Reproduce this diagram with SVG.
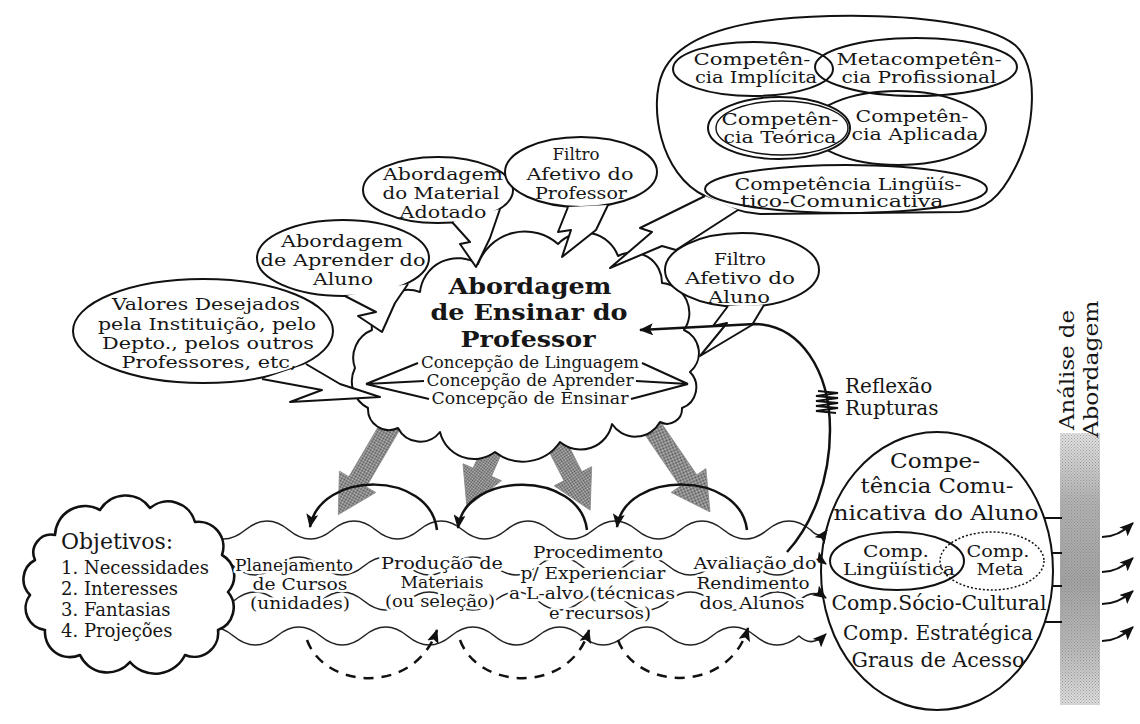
<svg xmlns="http://www.w3.org/2000/svg" width="1140" height="724" viewBox="0 0 1140 724">
<defs>
<style>
.t{font-family:"DejaVu Serif","Liberation Serif",serif;fill:#161616;text-anchor:middle}
.st{text-anchor:start}
.b{font-weight:bold}
.s16{font-size:16px}.s17{font-size:17px}.s18{font-size:18px}.s20{font-size:20px}.s21{font-size:21px}.s22{font-size:22px}
.ln{fill:none;stroke:#111;stroke-width:2}
.wf{fill:#fff;stroke:#111;stroke-width:2;stroke-linejoin:round}
.arc{fill:none;stroke:#111;stroke-width:2.5}
.dash{fill:none;stroke:#111;stroke-width:2.5;stroke-dasharray:10 8}
.wave{fill:none;stroke:#222;stroke-width:1.6}
.halo{stroke:#fff;stroke-width:5;paint-order:stroke;stroke-linejoin:round}
.hat{fill:url(#ht);stroke:#888;stroke-width:0.8}
</style>
<marker id="ah" markerUnits="userSpaceOnUse" markerWidth="14" markerHeight="12" viewBox="0 0 14 12" refX="13" refY="6" orient="auto"><path d="M0,0 L14,6 L0,12 L3,6 z" fill="#111"/></marker>
<pattern id="ht" width="2" height="2" patternUnits="userSpaceOnUse"><rect width="2" height="2" fill="#c4c4c4"/><rect width="1" height="1" fill="#505050"/><rect x="1" y="1" width="1" height="1" fill="#505050"/></pattern>
<pattern id="ht2" width="3" height="3" patternUnits="userSpaceOnUse"><rect width="1" height="1" fill="#777"/><rect x="1.5" y="1.5" width="1" height="1" fill="#777"/></pattern>
<linearGradient id="bandg" x1="0" y1="0" x2="0" y2="1">
<stop offset="0" stop-color="#e4e4e4"/><stop offset="0.25" stop-color="#b4b4b4"/><stop offset="0.55" stop-color="#a4a4a4"/><stop offset="0.8" stop-color="#bcbcbc"/><stop offset="1" stop-color="#e0e0e0"/>
</linearGradient>
</defs>
<rect width="1140" height="724" fill="#fff"/>

<g id="analise-abordagem">
<rect x="1060" y="433" width="40" height="272" fill="url(#bandg)"/>
<rect x="1060" y="433" width="40" height="272" fill="url(#ht2)" opacity="0.6"/>
<text class="t s20" transform="translate(1074,370) rotate(-90)" textLength="120" lengthAdjust="spacingAndGlyphs">Análise de</text>
<text class="t s20" transform="translate(1098,369) rotate(-90)" textLength="137" lengthAdjust="spacingAndGlyphs">Abordagem</text>
</g>

<g id="hatched-arrows">
<polygon class="hat" transform="translate(395,418) rotate(120.4)" points="0,-10 74,-10 74,-21 112,0 74,21 74,10 0,10"/>
<polygon class="hat" transform="translate(500,432) rotate(113.8)" points="0,-10 44,-10 44,-21 82,0 44,21 44,10 0,10"/>
<polygon class="hat" transform="translate(553,437) rotate(63.1)" points="0,-10 44,-10 44,-21 82,0 44,21 44,10 0,10"/>
<polygon class="hat" transform="translate(645,417) rotate(55.6)" points="0,-10 77,-10 77,-21 115,0 77,21 77,10 0,10"/>
</g>

<g id="abordagem-ensinar">
<path class="wf" d="M372,330 A36 36 0 0 1 420,292 A38 38 0 0 1 478,264 A50 50 0 0 1 558,244 A36 36 0 0 1 618,256 A30 30 0 0 1 662,283 A30 30 0 0 1 684,330 A25 25 0 0 1 690,372 A22 22 0 0 1 682,408 A15 15 0 0 1 660,422 A28 28 0 0 1 612,424 A32 32 0 0 1 560,442 A45 45 0 0 1 495,452 A35 35 0 0 1 440,432 A25 25 0 0 1 398,428 A21 21 0 0 1 368,408 A30 30 0 0 1 355,368 A30 30 0 0 1 372,330 Z"/>
<text class="t b s22" x="530" y="294" textLength="163" lengthAdjust="spacingAndGlyphs">Abordagem</text>
<text class="t b s22" x="529" y="320" textLength="197" lengthAdjust="spacingAndGlyphs">de Ensinar do</text>
<text class="t b s22" x="528" y="347" textLength="135" lengthAdjust="spacingAndGlyphs">Professor</text>
<text class="t s16" x="530" y="368" textLength="218" lengthAdjust="spacingAndGlyphs">Concepção de Linguagem</text>
<text class="t s16" x="530" y="386" textLength="207" lengthAdjust="spacingAndGlyphs">Concepção de Aprender</text>
<text class="t s16" x="530" y="404" textLength="197" lengthAdjust="spacingAndGlyphs">Concepção de Ensinar</text>
<path class="ln" d="M418,363 L366,384 M424,381 L366,384 M429,399 L366,384 M642,363 L688,384 M636,381 L688,384 M631,399 L688,384"/>
</g>

<g id="valores">
<ellipse class="wf" cx="203" cy="331" rx="130" ry="52"/>
<path class="wf" d="M262,379 L322,390 L290,402 L380,397 L340,384 L306,364"/>
<text class="t s17" x="206" y="310" textLength="188" lengthAdjust="spacingAndGlyphs">Valores Desejados</text>
<text class="t s17" x="207" y="330" textLength="218" lengthAdjust="spacingAndGlyphs">pela Instituição, pelo</text>
<text class="t s17" x="208" y="349" textLength="212" lengthAdjust="spacingAndGlyphs">Depto., pelos outros</text>
<text class="t s17" x="209" y="368" textLength="175" lengthAdjust="spacingAndGlyphs">Professores, etc,</text>
</g>

<g id="aprender-aluno">
<ellipse class="wf" cx="343" cy="258" rx="86" ry="38"/>
<path class="wf" d="M345,296 L376,312 L358,316 L382,332 L395,303 L408,284"/>
<text class="t s17" x="342" y="247" textLength="122" lengthAdjust="spacingAndGlyphs">Abordagem</text>
<text class="t s17" x="343" y="266" textLength="165" lengthAdjust="spacingAndGlyphs">de Aprender do</text>
<text class="t s17" x="343" y="285" textLength="60" lengthAdjust="spacingAndGlyphs">Aluno</text>
</g>

<g id="material-adotado">
<ellipse class="wf" cx="438" cy="190" rx="75" ry="33"/>
<path class="wf" d="M452,222 L470,242 L460,244 L476,267 L490,238 L500,209"/>
<text class="t s17" x="443" y="180" textLength="120" lengthAdjust="spacingAndGlyphs">Abordagem</text>
<text class="t s17" x="441" y="199" textLength="117" lengthAdjust="spacingAndGlyphs">do Material</text>
<text class="t s17" x="443" y="218" textLength="87" lengthAdjust="spacingAndGlyphs">Adotado</text>
</g>

<g id="filtro-professor">
<ellipse class="wf" cx="581" cy="172" rx="76" ry="35"/>
<path class="wf" d="M568,207 L558,232 L571,230 L562,257 L596,230 L608,205"/>
<text class="t s17" x="576" y="160" textLength="47" lengthAdjust="spacingAndGlyphs">Filtro</text>
<text class="t s17" x="580" y="180" textLength="107" lengthAdjust="spacingAndGlyphs">Afetivo do</text>
<text class="t s17" x="581" y="199" textLength="92" lengthAdjust="spacingAndGlyphs">Professor</text>
</g>

<g id="competencias-professor">
<path class="wf" d="M705,196 C660,175 648,105 663,72 C680,35 740,18 830,16 C920,14 990,25 1015,45 C1040,68 1035,130 1015,168 C1000,198 985,210 960,212 L760,214 C735,212 718,204 705,196 Z"/>
<path class="wf" d="M705,196 L640,228 L652,232 L610,268 L662,246 L676,250 L738,210"/>
<ellipse class="ln" cx="898" cy="128" rx="88" ry="37"/>
<ellipse class="ln" cx="916" cy="67" rx="101" ry="29"/>
<ellipse class="ln" cx="753" cy="69" rx="80" ry="27"/>
<ellipse class="wf" cx="779" cy="128" rx="71" ry="31"/>
<ellipse class="ln" cx="782" cy="128" rx="66" ry="27" style="stroke-width:1.4"/>
<ellipse class="ln" cx="846" cy="189" rx="141" ry="24"/>
<text class="t s16" x="752" y="65" textLength="117" lengthAdjust="spacingAndGlyphs">Competên-</text>
<text class="t s16" x="756" y="83" textLength="122" lengthAdjust="spacingAndGlyphs">cia Implícita</text>
<text class="t s16" x="919" y="65" textLength="165" lengthAdjust="spacingAndGlyphs">Metacompetên-</text>
<text class="t s16" x="919" y="83" textLength="155" lengthAdjust="spacingAndGlyphs">cia Profissional</text>
<text class="t s16" x="780" y="125" textLength="117" lengthAdjust="spacingAndGlyphs">Competên-</text>
<text class="t s16" x="780" y="143" textLength="113" lengthAdjust="spacingAndGlyphs">cia Teórica</text>
<text class="t s16" x="912" y="122" textLength="113" lengthAdjust="spacingAndGlyphs">Competên-</text>
<text class="t s16" x="915" y="140" textLength="127" lengthAdjust="spacingAndGlyphs">cia Aplicada</text>
<text class="t s16" x="848" y="190" textLength="227" lengthAdjust="spacingAndGlyphs">Competência Lingüís-</text>
<text class="t s16" x="842" y="207" textLength="203" lengthAdjust="spacingAndGlyphs">tico-Comunicativa</text>
</g>

<g id="filtro-aluno">
<ellipse class="wf" cx="742" cy="270" rx="77" ry="37"/>
<path class="wf" d="M728,306 L713,326 L727,323 L700,356 L752,325 L764,305"/>
<text class="t s17" x="740" y="265" textLength="52" lengthAdjust="spacingAndGlyphs">Filtro</text>
<text class="t s17" x="740" y="284" textLength="110" lengthAdjust="spacingAndGlyphs">Afetivo do</text>
<text class="t s17" x="739" y="303" textLength="62" lengthAdjust="spacingAndGlyphs">Aluno</text>
</g>

<g id="competencia-aluno">
<ellipse class="wf" cx="937" cy="571" rx="116" ry="139"/>
<ellipse class="ln" cx="897" cy="561" rx="67" ry="29"/>
<ellipse class="ln" cx="992" cy="561" rx="52" ry="29" style="stroke-width:1.5;stroke-dasharray:2 2"/>
<text class="t s21" x="935" y="468" textLength="90" lengthAdjust="spacingAndGlyphs">Compe-</text>
<text class="t s21" x="937" y="493" textLength="153" lengthAdjust="spacingAndGlyphs">tência Comu-</text>
<text class="t s21" x="936" y="520" textLength="205" lengthAdjust="spacingAndGlyphs">nicativa do Aluno</text>
<text class="t s17" x="896" y="557" textLength="66" lengthAdjust="spacingAndGlyphs">Comp.</text>
<text class="t s17" x="899" y="575" textLength="112" lengthAdjust="spacingAndGlyphs">Lingüística</text>
<text class="t s17" x="998" y="557" textLength="63" lengthAdjust="spacingAndGlyphs">Comp.</text>
<text class="t s17" x="1000" y="575" textLength="47" lengthAdjust="spacingAndGlyphs">Meta</text>
<text class="t s21" x="939" y="610" textLength="215" lengthAdjust="spacingAndGlyphs">Comp.Sócio-Cultural</text>
<text class="t s21" x="938" y="640" textLength="190" lengthAdjust="spacingAndGlyphs">Comp. Estratégica</text>
<text class="t s21" x="938" y="667" textLength="173" lengthAdjust="spacingAndGlyphs">Graus de Acesso</text>
</g>

<g id="connectors">
<path class="wave" marker-end="url(#ah)" d="M201.75,530 Q223.5,548 245.25,530 T288.75,530 T332.25,530 T375.75,530 T419.25,530 T462.75,530 T506.25,530 T549.75,530 T593.25,530 T636.75,530 T680.25,530 T723.75,530 T767.25,530 T810.75,530 Q820,540 827,530"/>
<path class="wave" marker-end="url(#ah)" d="M190,566 Q211.75,548 233.5,566 T277,566 T320.5,566 T364,566 T407.5,566 T451,566 T494.5,566 T538,566 T581.5,566 T625,566 T668.5,566 T712,566 T755.5,566 T799,566 Q812,554 826,564"/>
<path class="wave" marker-end="url(#ah)" d="M190,601 Q211.75,619 233.5,601 T277,601 T320.5,601 T364,601 T407.5,601 T451,601 T494.5,601 T538,601 T581.5,601 T625,601 T668.5,601 T712,601 T755.5,601 T799,601 Q812,588 826,598"/>
<path class="wave" marker-end="url(#ah)" d="M190,636 Q211.75,618 233.5,636 T277,636 T320.5,636 T364,636 T407.5,636 T451,636 T494.5,636 T538,636 T581.5,636 T625,636 T668.5,636 T712,636 T755.5,636 T799,636 Q812,648 826,634"/>
<path class="arc" marker-end="url(#ah)" d="M437,530 C430,470 320,470 310,527"/>
<path class="arc" marker-end="url(#ah)" d="M587,530 C580,470 465,470 458,528"/>
<path class="arc" marker-end="url(#ah)" d="M747,530 C740,470 625,470 617,527"/>
<path class="dash" marker-end="url(#ah)" d="M307,640 C325,690 415,695 437,630"/>
<path class="dash" marker-end="url(#ah)" d="M460,640 C478,690 570,695 589,630"/>
<path class="dash" marker-end="url(#ah)" d="M618,640 C636,690 728,695 748,628"/>
<path class="arc" marker-end="url(#ah)" d="M787,552 C812,525 830,480 830,430 C830,370 800,325 755,324 L640,330"/>
<polyline fill="none" stroke="#111" stroke-width="2.2" points="818,391 838,393 816,396 838,398 816,401 838,403 816,406 838,408 816,411 836,413"/>
<path class="ln" d="M1044,518 L1062,518 M1052,553 L1062,553 M1052,586 L1062,586 M1045,622 L1062,622"/>
<path class="ln" marker-end="url(#ah)" d="M1102,537 Q1118,537 1133,523"/>
<path class="ln" marker-end="url(#ah)" d="M1102,572 Q1118,572 1133,558"/>
<path class="ln" marker-end="url(#ah)" d="M1102,604 Q1118,604 1133,591"/>
<path class="ln" marker-end="url(#ah)" d="M1102,641 Q1118,641 1133,627"/>
</g>

<g id="reflexao">
<text class="t st s20" x="845" y="393">Reflexão</text>
<text class="t st s20" x="845" y="415">Rupturas</text>
</g>

<g id="objetivos">
<path class="wf" style="stroke-width:2.6" d="M55,535 A30 30 0 0 1 100,510 A30 30 0 0 1 150,508 A28 28 0 0 1 195,522 A25 25 0 0 1 222,555 A24 24 0 0 1 228,592 A24 24 0 0 1 218,630 A24 24 0 0 1 185,655 A33 33 0 0 1 130,662 A30 30 0 0 1 80,655 A25 25 0 0 1 45,630 A22 22 0 0 1 30,595 A22 22 0 0 1 35,560 A18 18 0 0 1 55,535 Z"/>
<text class="t st s22" x="61" y="549">Objetivos:</text>
<text class="t st s18" x="61" y="574">1. Necessidades</text>
<text class="t st s18" x="61" y="595">2. Interesses</text>
<text class="t st s18" x="61" y="616">3. Fantasias</text>
<text class="t st s18" x="61" y="637">4. Projeções</text>
</g>

<g id="planejamento">
<text class="t s17 halo" x="294" y="571" textLength="118" lengthAdjust="spacingAndGlyphs">Planejamento</text>
<text class="t s17 halo" x="300" y="590" textLength="95" lengthAdjust="spacingAndGlyphs">de Cursos</text>
<text class="t s17 halo" x="300" y="609" textLength="100" lengthAdjust="spacingAndGlyphs">(unidades)</text>
</g>
<g id="producao">
<text class="t s17 halo" x="442" y="569" textLength="122" lengthAdjust="spacingAndGlyphs">Produção de</text>
<text class="t s17 halo" x="442" y="588" textLength="83" lengthAdjust="spacingAndGlyphs">Materiais</text>
<text class="t s17 halo" x="440" y="607" textLength="110" lengthAdjust="spacingAndGlyphs">(ou seleção)</text>
</g>
<g id="procedimento">
<text class="t s17 halo" x="598" y="558" textLength="130" lengthAdjust="spacingAndGlyphs">Procedimento</text>
<text class="t s17 halo" x="593" y="579" textLength="145" lengthAdjust="spacingAndGlyphs">p/ Experienciar</text>
<text class="t s17 halo" x="592" y="599" textLength="166" lengthAdjust="spacingAndGlyphs">a L-alvo (técnicas</text>
<text class="t s17 halo" x="600" y="619" textLength="102" lengthAdjust="spacingAndGlyphs">e recursos)</text>
</g>
<g id="avaliacao">
<text class="t s17 halo" x="755" y="569" textLength="123" lengthAdjust="spacingAndGlyphs">Avaliação do</text>
<text class="t s17 halo" x="753" y="589" textLength="113" lengthAdjust="spacingAndGlyphs">Rendimento</text>
<text class="t s17 halo" x="752" y="609" textLength="105" lengthAdjust="spacingAndGlyphs">dos Alunos</text>
</g>
</svg>
